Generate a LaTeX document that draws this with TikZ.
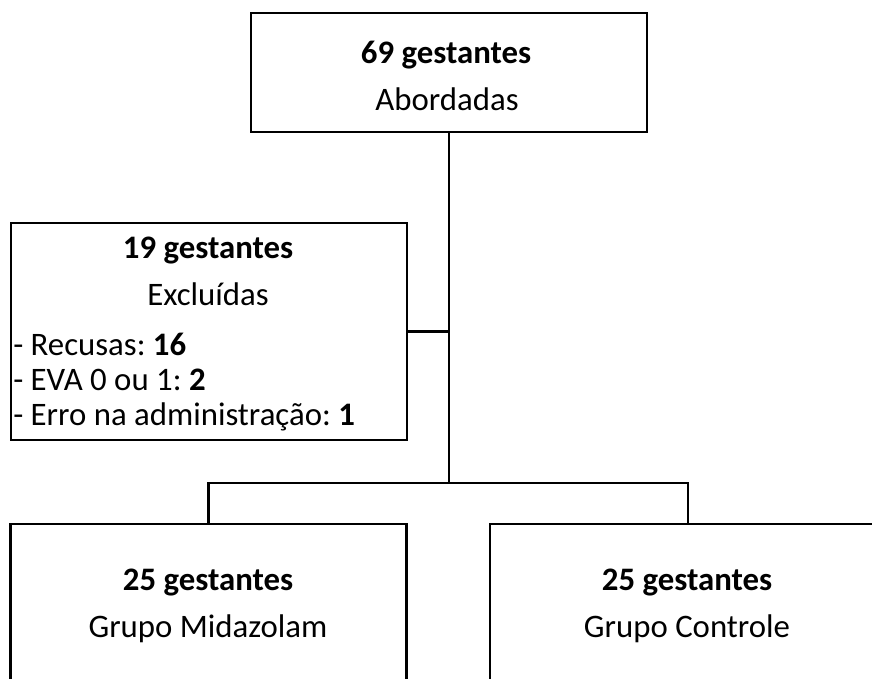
\documentclass[tikz,border=0pt]{standalone}
\usepackage{fontspec}
\setmainfont{Carlito}
\frenchspacing
\tikzset{
  box/.style = {draw, line width=1.8pt, minimum width=297pt, inner sep=0pt},
}
\begin{document}
\begin{tikzpicture}[
    x=0.75pt, y=-0.75pt,
    every node/.append style={font=\fontsize{24.6}{29}\selectfont},
    hd/.style={anchor=base, inner sep=0pt, font=\fontsize{24.6}{29}\selectfont\bfseries},
    ln/.style={anchor=base, inner sep=0pt},
    item/.style={anchor=base west, inner sep=0pt},
    ]
    \clip (0,0) rectangle (872,679);
    \node[box, minimum height=89.25pt] (top) at (449,72.5) {};
    \node[hd] (topnum) at (446,63) {69 gestantes};
    \node[ln] (toplbl) at (447,110) {Abordadas};
    \node[box, minimum height=162.75pt] (excl) at (209,331.5) {};
    \node[hd] (exclnum) at (208,258) {19 gestantes};
    \node[ln] (excllbl) at (208,305) {Excluídas};
    \node[item] (rec) at (13,355) {- Recusas: \textbf{16}};
    \node[item] (eva) at (13,390) {- EVA 0 ou 1: \textbf{2}};
    \node[item] (erro) at (13,425) {- Erro na administração: \textbf{1}};
    \node[box, minimum height=150pt] (midaz) at (208.5,624) {};
    \node[hd] (midaznum) at (208,590) {25 gestantes};
    \node[ln] (midazlbl) at (208,637) {Grupo Midazolam};
    \node[box, minimum height=150pt] (ctrl) at (688,624) {};
    \node[hd] (ctrlnum) at (687,590) {25 gestantes};
    \node[ln] (ctrllbl) at (687,637) {Grupo Controle};
    \coordinate (split) at (449,483);
    \draw[line width=1.8pt] (top.south) -- (split);
    \draw[line width=1.8pt] (excl.east) -- (excl.east -| split);
    \draw[line width=1.8pt] (midaz.north) |- (split) -| (ctrl.north);
  \end{tikzpicture}
\end{document}
